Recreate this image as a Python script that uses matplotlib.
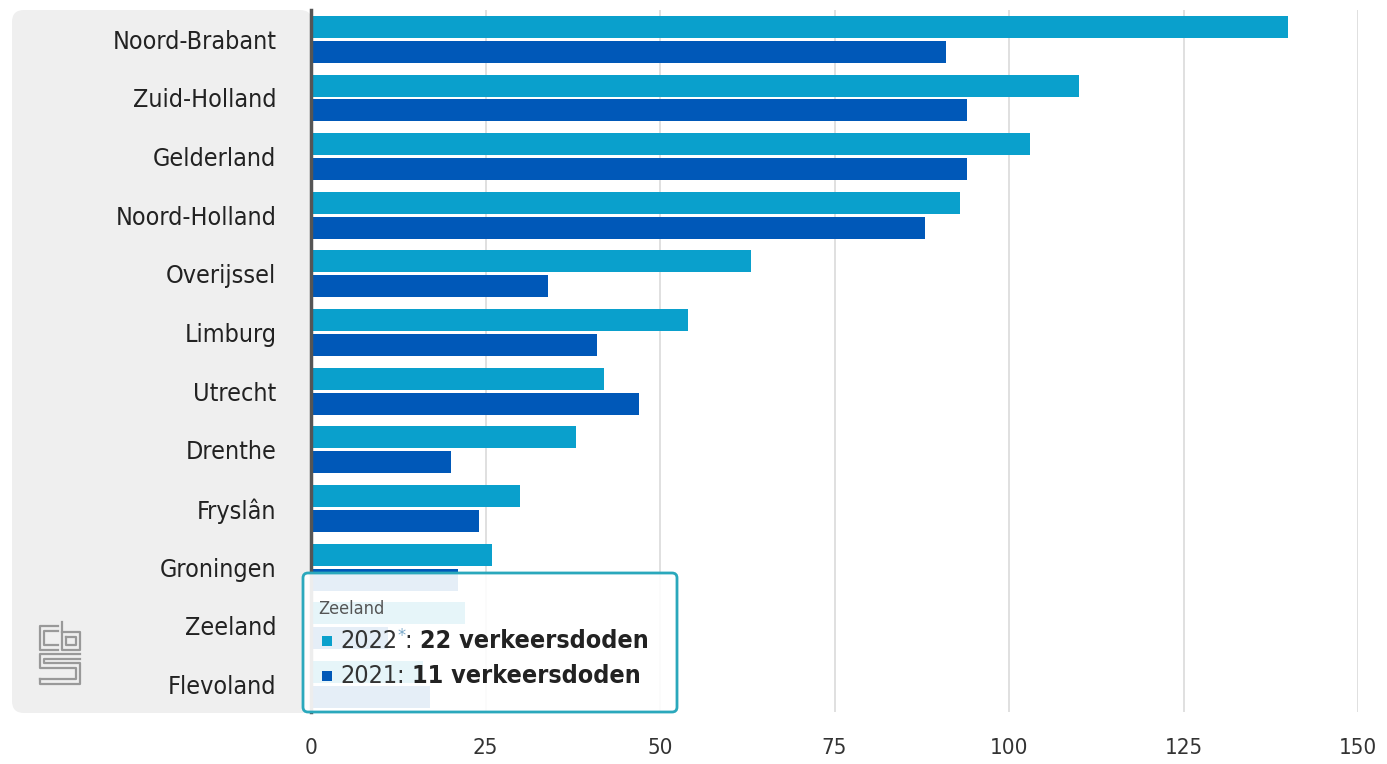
import numpy as np
import matplotlib
matplotlib.use('Agg')
import matplotlib.pyplot as plt
from matplotlib.patches import FancyBboxPatch, Rectangle
from matplotlib.transforms import IdentityTransform

provincies = ['Noord-Brabant', 'Zuid-Holland', 'Gelderland', 'Noord-Holland',
              'Overijssel', 'Limburg', 'Utrecht', 'Drenthe', 'Fryslân',
              'Groningen', 'Zeeland', 'Flevoland']
doden_2022 = [140, 110, 103, 93, 63, 54, 42, 38, 30, 26, 22, 16]
doden_2021 = [91, 94, 94, 88, 34, 41, 47, 20, 24, 21, 11, 17]
x_ticks = [0, 25, 50, 75, 100, 125, 150]

kleur_2022 = '#0aa0cc'
kleur_2021 = '#0058b8'

plt.rcParams['font.family'] = ['DejaVu Sans']
plt.rcParams['font.stretch'] = 'condensed'

W, H = 1387, 764
fig = plt.figure(figsize=(W / 100, H / 100), dpi=100)

# grijs paneel achter de labels
paneel = FancyBboxPatch((12, H - 713), 300, 703, boxstyle='round,pad=0,rounding_size=12',
                        transform=IdentityTransform(), facecolor='#efefef',
                        edgecolor='none', zorder=-5)
fig.patches.append(paneel)

ax = fig.add_axes([311 / W, 1 - 712 / H, (1358 - 311) / W, (712 - 10) / H])
ax.set_facecolor('none')

y = np.arange(len(provincies))
ax.barh(y - 0.2125, doden_2022, height=0.375, color=kleur_2022, zorder=3)
ax.barh(y + 0.2125, doden_2021, height=0.375, color=kleur_2021, zorder=3)

ax.set_xlim(0, 150)
ax.set_ylim(len(provincies) - 0.53, -0.5)
ax.set_xticks(x_ticks)
ax.set_xticklabels([str(v) for v in x_ticks], fontsize=16, color='#333333')
ax.set_yticks(y)
ax.set_yticklabels(provincies, fontsize=18, color='#222222')
ax.tick_params(axis='y', length=0, pad=25)
ax.tick_params(axis='x', length=0, pad=19)
ax.grid(axis='x', color='#dddddd', linewidth=1.3, zorder=1)
ax.set_axisbelow(True)
for s in ['top', 'right', 'bottom']:
    ax.spines[s].set_visible(False)
ax.spines['left'].set_color('#555555')
ax.spines['left'].set_linewidth(2.5)
ax.spines['left'].set_zorder(4)

# tooltip
tip = FancyBboxPatch((303, H - 712), 374, 139, boxstyle='round,pad=0,rounding_size=5',
                     transform=IdentityTransform(), facecolor='white', alpha=0.9,
                     edgecolor='none', zorder=10)
rand = FancyBboxPatch((303, H - 712), 374, 139, boxstyle='round,pad=0,rounding_size=5',
                      transform=IdentityTransform(), facecolor='none',
                      edgecolor='#2aa8bc', linewidth=2, zorder=11)
fig.patches.extend([tip, rand])

fig.text(318 / W, 1 - 609 / H, 'Zeeland', fontsize=13, color='#555555',
         va='center', ha='left', zorder=12)

renderer = fig.canvas.get_renderer()
regels = [('2022', '*', '22 verkeersdoden', kleur_2022, 641),
          ('2021', '', '11 verkeersdoden', kleur_2021, 676)]
for jaar, ster, rest, kleur, ypix in regels:
    fig.patches.append(Rectangle((322, H - ypix - 5), 10, 10, transform=IdentityTransform(),
                                 facecolor=kleur, edgecolor='none', zorder=12))
    t1 = fig.text(340 / W, 1 - ypix / H, jaar, fontsize=18, color='#333333',
                  va='center', ha='left', zorder=12)
    x1 = t1.get_window_extent(renderer).x1
    if ster:
        t2 = fig.text(x1 / W, 1 - (ypix - 5) / H, ster, fontsize=13, color='#7aa8c8',
                      va='center', ha='left', zorder=12)
        x1 = t2.get_window_extent(renderer).x1
    t3 = fig.text(x1 / W, 1 - ypix / H, ': ', fontsize=18, color='#333333',
                  va='center', ha='left', zorder=12)
    x1 = t3.get_window_extent(renderer).x1
    fig.text(x1 / W, 1 - ypix / H, rest, fontsize=18, color='#222222',
             fontweight='bold', va='center', ha='left', zorder=12)

# cbs-logo (vereenvoudigd)
def lijn(xs, ys):
    fig.lines.append(plt.Line2D(xs, [H - v for v in ys], transform=IdentityTransform(),
                                color='#999999', linewidth=1.6, zorder=2))

# c
lijn([58, 40, 40, 58], [626, 626, 650, 650])
lijn([58, 44, 44, 58], [631, 631, 645, 645])
# b
lijn([62, 62, 80, 80, 62], [622, 650, 650, 632, 632])
lijn([66, 66, 76, 76, 66], [637, 645, 645, 637, 637])
# s
lijn([80, 40, 40, 76, 76, 40], [654, 654, 668, 668, 679, 679])
lijn([80, 44, 44, 80, 80, 40, 40], [659, 659, 663, 663, 684, 684, 679])

fig.savefig('out.png', dpi=100)
